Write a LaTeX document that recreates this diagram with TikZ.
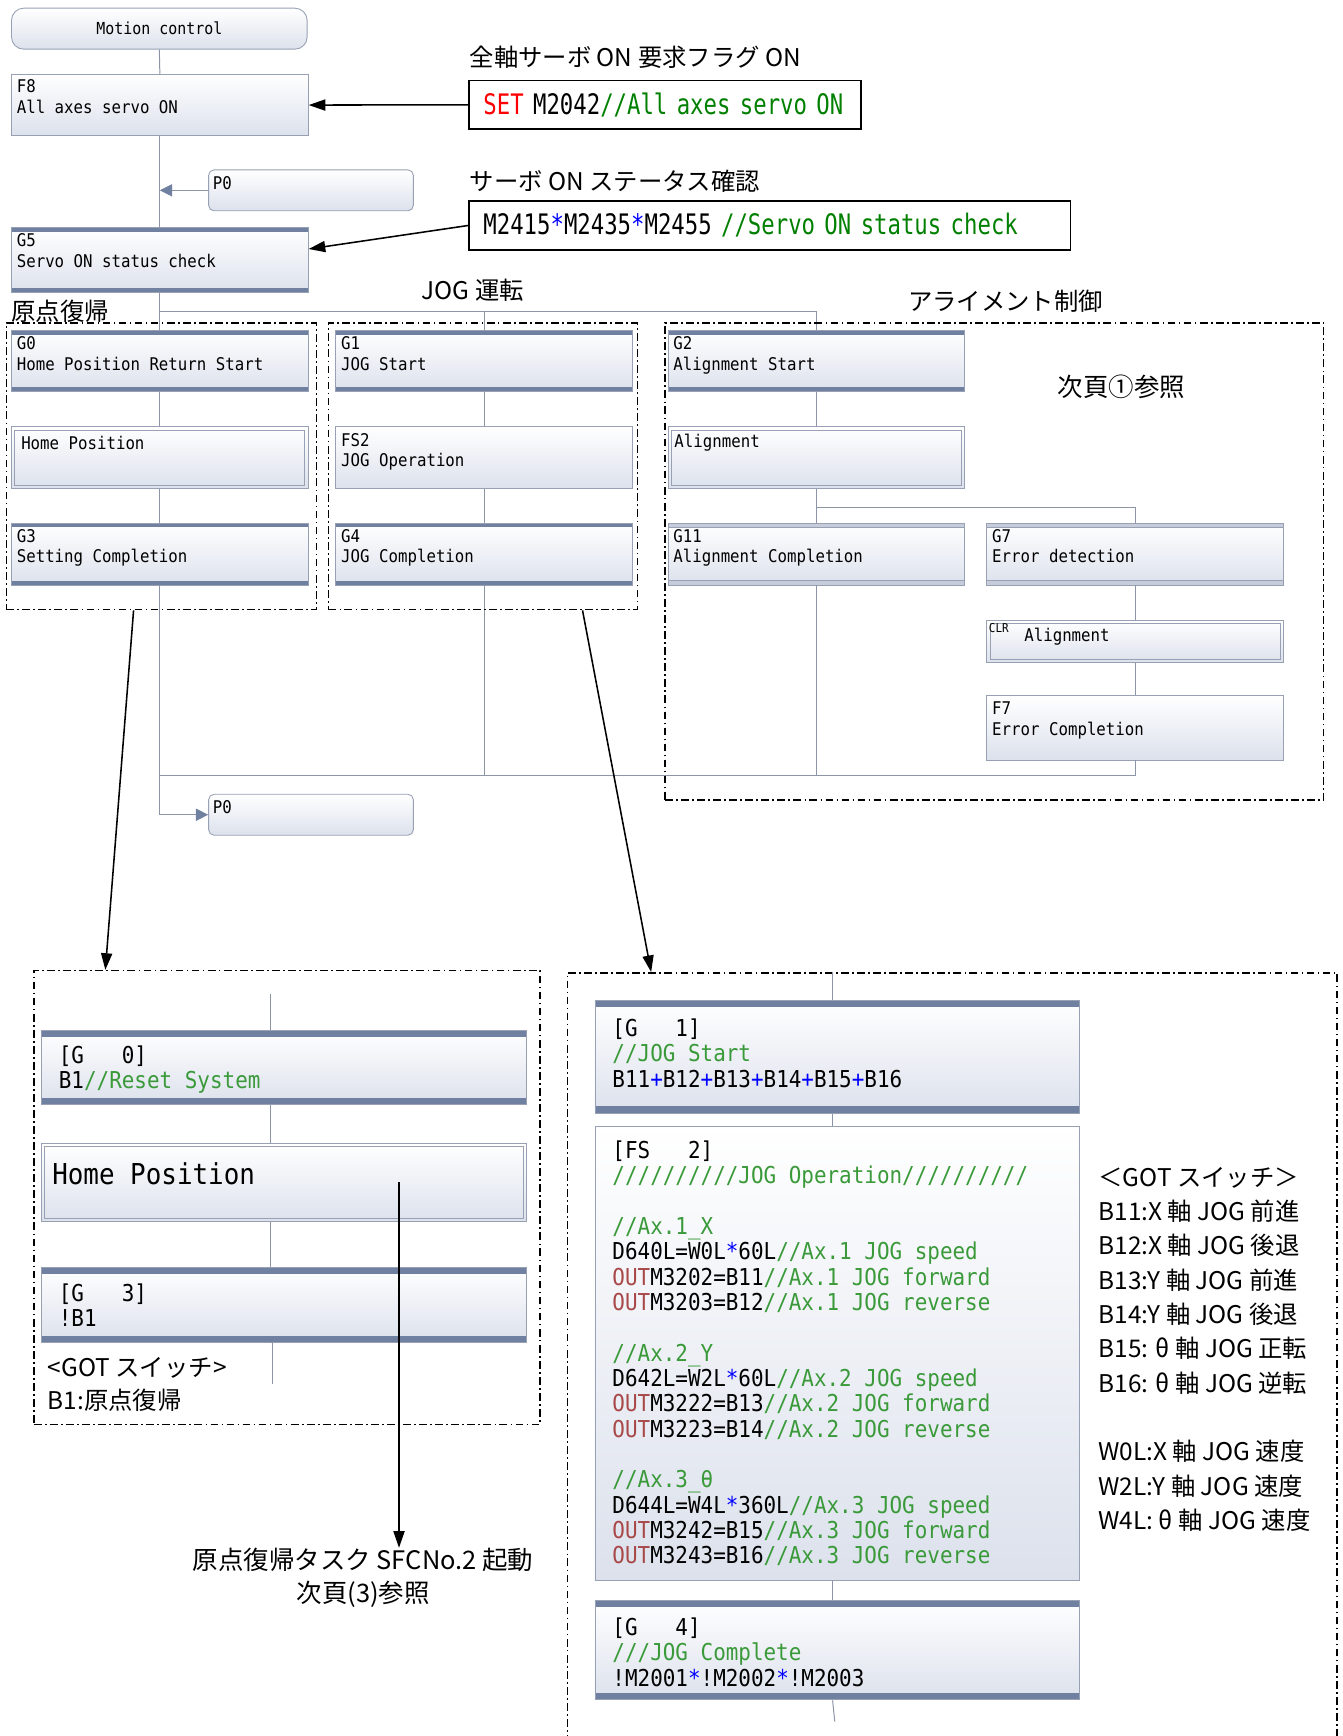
\documentclass[tikz,border=0pt]{standalone}
\usepackage{fontspec}
\usetikzlibrary{arrows.meta}
\newfontfamily\sfcfont[FakeStretch=0.9]{DejaVu Sans Mono}
\newfontfamily\codefont[FakeStretch=0.79]{DejaVu Sans Mono}
\newfontfamily\jpfont{Noto Sans CJK JP}

\definecolor{barcol}{HTML}{7080A0}
\definecolor{barlite}{HTML}{C6CCD9}
\definecolor{boxline}{HTML}{98A1B3}
\definecolor{boxfill}{HTML}{DCE1EC}
\definecolor{linecol}{HTML}{8C94A5}
\definecolor{cmtdark}{HTML}{008000}
\definecolor{cmtlite}{HTML}{3A9A3A}
\definecolor{oprblue}{HTML}{0000FF}
\definecolor{kwred}{HTML}{FF0000}
\definecolor{outred}{HTML}{A84848}

\newcommand\cmt[1]{\textcolor{cmtdark}{#1}}
\newcommand\cmtl[1]{\textcolor{cmtlite}{#1}}
\newcommand\opr[1]{\textcolor{oprblue}{#1}}
\newcommand\outkw{\textcolor{outred}{OUT}}

\tikzset{
	sfcbox/.style={draw=boxline, line width=0.8pt, top color=white, bottom color=boxfill, anchor=north west, inner sep=0pt, minimum width=268, minimum height=55},
	gstep/.style={sfcbox, path picture={
		\fill[barcol] (path picture bounding box.north west) rectangle ([yshift=-#1]path picture bounding box.north east);
		\fill[barcol] (path picture bounding box.south west) rectangle ([yshift=#1]path picture bounding box.south east);
	}},
	gstep/.default=4pt,
	litestep/.style={sfcbox, path picture={
		\fill[barlite] (path picture bounding box.north west) rectangle ([yshift=-4pt]path picture bounding box.north east);
		\fill[barlite] (path picture bounding box.south west) rectangle ([yshift=4pt]path picture bounding box.south east);
		\draw[boxline, line width=0.5pt] ([yshift=-4pt]path picture bounding box.north west) -- ([yshift=-4pt]path picture bounding box.north east);
		\draw[boxline, line width=0.5pt] ([yshift=4pt]path picture bounding box.south west) -- ([yshift=4pt]path picture bounding box.south east);
	}},
	dblstep/.style={sfcbox, path picture={
		\draw[boxline, line width=0.8pt] ([shift={(3pt,-3pt)}]path picture bounding box.north west) rectangle ([shift={(-3pt,3pt)}]path picture bounding box.south east);
	}},
	pbox/.style={sfcbox, rounded corners=5pt, minimum width=185, minimum height=37},
	boxtxt/.style={anchor=north west, inner sep=0pt, align=left, font=\sfcfont\fontsize{15.8}{18.5}\selectfont},
	dtxt/.style={anchor=north west, inner sep=0pt, align=left, font=\sfcfont\fontsize{21}{22.9}\selectfont},
	sfcline/.style={draw=linecol, line width=0.9pt},
	sfcflow/.style={sfcline, -{Triangle[length=11pt, width=11pt, color=barcol]}},
	notearrow/.style={draw=black, line width=1.4pt, -{Triangle[length=15pt, width=10pt]}},
	dashframe/.style={draw=black, line width=1.3pt, dash pattern=on 7pt off 3pt on 1.5pt off 3pt, anchor=north west, inner sep=0pt},
	codebox/.style={draw=black, line width=1.3pt, anchor=north west, minimum height=44, inner xsep=13pt, text width=#1, align=left, font=\codefont\fontsize{25.5}{28}\selectfont},
	jptxt/.style={inner sep=0pt, font=\jpfont\fontsize{22}{30}\selectfont},
}

\begin{document}
\begin{tikzpicture}[x=1pt, y=-1pt]
	\path[use as bounding box, fill=white] (0,0) rectangle (1213,1568);

	%%%%% main chart %%%%%
	\node[sfcbox, rounded corners=11pt, minimum width=267, minimum height=37, font=\sfcfont\fontsize{15}{17}\selectfont] (mc) at (10,7) {Motion control};
	\node[sfcbox] (f8) at (10,67) {};
	\node[boxtxt] (f8-t) at ([shift={(5pt,-5pt)}]f8.north west) {F8\\All axes servo ON};
	\node[pbox] (p0a) at (188,153) {};
	\node[boxtxt] (p0a-t) at ([shift={(4pt,-6pt)}]p0a.north west) {P0};
	\node[gstep, minimum height=59] (g5) at (10,205) {};
	\node[boxtxt] (g5-t) at ([shift={(5pt,-6pt)}]g5.north west) {G5\\Servo ON status check};

	\draw[sfcline] (mc.south) -- (f8.north);
	\draw[sfcline] (f8.south) -- (g5.north);
	\draw[sfcflow] (p0a.west) -- (p0a.west -| f8.south);

	% three branches
	\node[gstep] (g0) at (10,298) {};
	\node[boxtxt] (g0-t) at ([shift={(5pt,-6pt)}]g0.north west) {G0\\Home Position Return Start};
	\node[dblstep, minimum height=56] (hp) at (10,385) {};
	\node[boxtxt] (hp-t) at ([shift={(9pt,-9pt)}]hp.north west) {Home Position};
	\node[gstep, minimum height=56] (g3) at (10,472) {};
	\node[boxtxt] (g3-t) at ([shift={(5pt,-6pt)}]g3.north west) {G3\\Setting Completion};

	\node[gstep] (g1) at (303,298) {};
	\node[boxtxt] (g1-t) at ([shift={(5pt,-6pt)}]g1.north west) {G1\\JOG Start};
	\node[sfcbox, minimum height=56] (fs2) at (303,385) {};
	\node[boxtxt] (fs2-t) at ([shift={(5pt,-6pt)}]fs2.north west) {FS2\\JOG Operation};
	\node[gstep, minimum height=56] (g4) at (303,472) {};
	\node[boxtxt] (g4-t) at ([shift={(5pt,-6pt)}]g4.north west) {G4\\JOG Completion};

	\node[gstep] (g2) at (603,298) {};
	\node[boxtxt] (g2-t) at ([shift={(5pt,-6pt)}]g2.north west) {G2\\Alignment Start};
	\node[dblstep, minimum height=56] (al) at (603,385) {};
	\node[boxtxt] (al-t) at ([shift={(6pt,-7pt)}]al.north west) {Alignment};
	\node[litestep, minimum height=56] (g11) at (603,472) {};
	\node[boxtxt] (g11-t) at ([shift={(5pt,-6pt)}]g11.north west) {G11\\Alignment Completion};
	\node[litestep, minimum height=56] (g7) at (891,472) {};
	\node[boxtxt] (g7-t) at ([shift={(5pt,-6pt)}]g7.north west) {G7\\Error detection};
	\node[dblstep, minimum height=38] (clr) at (891,560) {};
	\node[boxtxt, font=\sfcfont\fontsize{11}{12}\selectfont] (clr-k) at ([shift={(2pt,-3pt)}]clr.north west) {CLR};
	\node[boxtxt] (clr-t) at ([shift={(34pt,-7pt)}]clr.north west) {Alignment};
	\node[sfcbox, minimum height=58] (f7) at (891,628) {};
	\node[boxtxt] (f7-t) at ([shift={(5pt,-6pt)}]f7.north west) {F7\\Error Completion};
	\node[pbox] (p0b) at (188,717) {};
	\node[boxtxt] (p0b-t) at ([shift={(4pt,-6pt)}]p0b.north west) {P0};

	\coordinate (brl) at ([yshift=-17pt]g5.south);
	\draw[sfcline] (g5.south) -- (brl) -| (g2.north);
	\draw[sfcline] (brl) -- (g0.north);
	\draw[sfcline] (g1.north) -- (g1.north |- brl);
	\draw[sfcline] (g0.south) -- (hp.north);
	\draw[sfcline] (hp.south) -- (g3.north);
	\draw[sfcline] (g1.south) -- (fs2.north);
	\draw[sfcline] (fs2.south) -- (g4.north);
	\draw[sfcline] (g2.south) -- (al.north);
	\coordinate (brr) at ([yshift=-17pt]al.south);
	\draw[sfcline] (al.south) -- (brr) -| (g7.north);
	\draw[sfcline] (brr) -- (g11.north);
	\draw[sfcline] (g7.south) -- (clr.north);
	\draw[sfcline] (clr.south) -- (f7.north);

	\coordinate (mrg) at (144,700);
	\draw[sfcline] (mrg) -- (mrg -| f7.south) -- (f7.south);
	\draw[sfcline] (g4.south) -- (g4.south |- mrg);
	\draw[sfcline] (g11.south) -- (g11.south |- mrg);
	\draw[sfcflow] (g3.south) |- (p0b.west);

	% dash-dot groups
	\node[dashframe, minimum width=280, minimum height=259] (frA) at (5,291) {};
	\node[dashframe, minimum width=279, minimum height=259] (frB) at (296,291) {};
	\node[dashframe, minimum width=595, minimum height=431] (frC) at (600,291) {};
	\node[jptxt, anchor=west] (frA-l) at ([shift={(5pt,10pt)}]frA.north west) {原点復帰};
	\node[jptxt] (frB-l) at ([shift={(-9pt,29pt)}]frB.north) {JOG 運転};
	\node[jptxt] (frC-l) at ([shift={(10pt,19pt)}]frC.north) {アライメント制御};
	\node[jptxt, font=\jpfont\fontsize{23}{28}\selectfont] (frC-n) at (1013,349) {次頁①参照};

	% program notes
	\node[codebox=328pt] (set1) at (423,72) {\textcolor{kwred}{SET} M2042\cmt{//All axes servo ON}};
	\node[codebox=517pt] (set2) at (423,181) {M2415\opr{*}M2435\opr{*}M2455 \cmt{//Servo ON status check}};
	\node[jptxt, anchor=west] (set1-l) at ([shift={(1pt,20pt)}]set1.north west) {全軸サーボ ON 要求フラグ ON};
	\node[jptxt, anchor=west] (set2-l) at ([shift={(1pt,17pt)}]set2.north west) {サーボ ON ステータス確認};
	\draw[notearrow] (set1.west) -- (f8.east);
	\draw[notearrow] (set2.west) -- ([yshift=10pt]g5.east);

	%%%%% home position detail %%%%%
	\node[dashframe, minimum width=457, minimum height=410] (frD) at (30,876) {};
	\node[gstep=6pt, minimum width=438, minimum height=67] (dg0) at (37,930) {};
	\node[dtxt] (dg0-t) at ([shift={(16pt,-14pt)}]dg0.north west) {[G~~~0]\\B1\cmtl{//Reset System}};
	\node[dblstep, minimum width=438, minimum height=71] (dhp) at (37,1032) {};
	\node[dtxt, font=\sfcfont\fontsize{26}{28}\selectfont] (dhp-t) at ([shift={(10pt,-18pt)}]dhp.north west) {Home Position};
	\node[gstep=6pt, minimum width=438, minimum height=68] (dg3) at (37,1144) {};
	\node[dtxt] (dg3-t) at ([shift={(16pt,-15pt)}]dg3.north west) {[G~~~3]\\!B1};
	\node[jptxt, anchor=north west, align=left] (gotA) at (43,1226) {<GOT スイッチ>\\B1:原点復帰};

	\coordinate (dA) at (244,898);
	\coordinate (dAend) at (246,1250);
	\draw[sfcline] (dA) -- (dA |- dg0.north);
	\draw[sfcline] (dA |- dg0.south) -- (dA |- dhp.north);
	\draw[sfcline] (dA |- dhp.south) -- (dA |- dg3.north);
	\draw[sfcline] (dA |- dg3.south) -- (dAend |- dg3.south) -- (dAend);

	\node[jptxt, align=center, anchor=north, font=\jpfont\fontsize{23}{30}\selectfont] (hpnote) at (328,1398) {原点復帰タスク SFCNo.2 起動\\次頁(3)参照};
	\coordinate (hparr) at ([xshift=104pt]dhp.center);
	\draw[notearrow] (hparr) -- (hparr |- hpnote.north);

	%%%%% JOG detail %%%%%
	\node[dashframe, minimum width=695, minimum height=720] (frE) at (512,878) {};
	\node[gstep=6pt, minimum width=438, minimum height=102] (dg1) at (537,903) {};
	\node[dtxt] (dg1-t) at ([shift={(16pt,-17pt)}]dg1.north west) {[G~~~1]\\\cmtl{//JOG Start}\\B11\opr{+}B12\opr{+}B13\opr{+}B14\opr{+}B15\opr{+}B16};
	\node[sfcbox, minimum width=438, minimum height=410] (dfs2) at (537,1017) {};
	\node[dtxt] (dfs2-t) at ([shift={(16pt,-13pt)}]dfs2.north west) {[FS~~~2]\\
		\cmtl{//////////JOG Operation//////////}\\
		\mbox{}\\
		\cmtl{//Ax.1\_X}\\
		D640L=W0L\opr{*}60L\cmtl{//Ax.1 JOG speed}\\
		\outkw M3202=B11\cmtl{//Ax.1 JOG forward}\\
		\outkw M3203=B12\cmtl{//Ax.1 JOG reverse}\\
		\mbox{}\\
		\cmtl{//Ax.2\_Y}\\
		D642L=W2L\opr{*}60L\cmtl{//Ax.2 JOG speed}\\
		\outkw M3222=B13\cmtl{//Ax.2 JOG forward}\\
		\outkw M3223=B14\cmtl{//Ax.2 JOG reverse}\\
		\mbox{}\\
		\cmtl{//Ax.3\_θ}\\
		D644L=W4L\opr{*}360L\cmtl{//Ax.3 JOG speed}\\
		\outkw M3242=B15\cmtl{//Ax.3 JOG forward}\\
		\outkw M3243=B16\cmtl{//Ax.3 JOG reverse}};
	\node[gstep=6pt, minimum width=438, minimum height=90] (dg4) at (537,1445) {};
	\node[dtxt] (dg4-t) at ([shift={(16pt,-16pt)}]dg4.north west) {[G~~~4]\\\cmtl{///JOG Complete}\\!M2001\opr{*}!M2002\opr{*}!M2003};

	\coordinate (dB) at (752,878);
	\coordinate (dBend) at (754,1555);
	\draw[sfcline] (dB) -- (dB |- dg1.north);
	\draw[sfcline] (dB |- dg1.south) -- (dB |- dfs2.north);
	\draw[sfcline] (dB |- dfs2.south) -- (dB |- dg4.north);
	\draw[sfcline] (dB |- dg4.south) -- (dBend);

	\node[jptxt, anchor=north west, align=left, font=\jpfont\fontsize{22}{31}\selectfont] (gotB) at (992,1054) {＜GOT スイッチ＞\\
		B11:X 軸 JOG 前進\\
		B12:X 軸 JOG 後退\\
		B13:Y 軸 JOG 前進\\
		B14:Y 軸 JOG 後退\\
		B15: θ 軸 JOG 正転\\
		B16: θ 軸 JOG 逆転\\
		\mbox{}\\
		W0L:X 軸 JOG 速度\\
		W2L:Y 軸 JOG 速度\\
		W4L: θ 軸 JOG 速度};

	\draw[notearrow] ([xshift=-25pt]frA.south) -- ([xshift=-164pt]frD.north);
	\draw[notearrow] ([xshift=90pt]frB.south) -- ([xshift=-272pt]frE.north);
\end{tikzpicture}
\end{document}
